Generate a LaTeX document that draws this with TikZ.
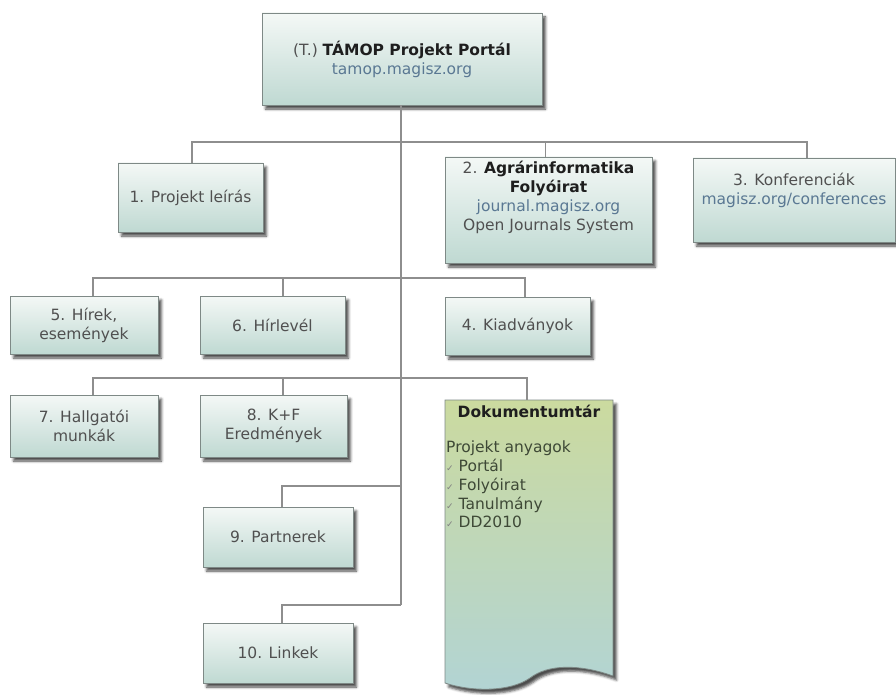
\documentclass[tikz,border=0pt]{standalone}
\usepackage{fontspec}
\setmainfont{DejaVu Sans}
\usetikzlibrary{shadows.blur}

\definecolor{boxtop}{HTML}{F4F8F6}
\definecolor{boxbot}{HTML}{BFD9D2}
\definecolor{boxline}{HTML}{7E8986}
\definecolor{wirecol}{HTML}{8E8E8E}
\definecolor{bodytxt}{HTML}{505050}
\definecolor{urlcol}{HTML}{5A7893}
\definecolor{strongtxt}{HTML}{1E1E1E}
\definecolor{doctop}{HTML}{CBDA9F}
\definecolor{docbot}{HTML}{B2D4D4}
\definecolor{doctxt}{HTML}{3E4936}

% small grey tick in front of the list entries
\newcommand\ticked{{\color{gray}\fontsize{9}{9}\selectfont ✓}\hspace{5pt}}

\begin{document}
\begin{tikzpicture}[x=1pt,y=-1pt,
  basefont/.style={font=\fontsize{15.5}{19}\selectfont},
  softshadow/.style={blur shadow={shadow xshift=3.5pt, shadow yshift=-4pt,
      shadow blur radius=2.5pt, shadow opacity=70}},
  box/.style={basefont, draw=boxline, line width=0.8pt,
    top color=boxtop, bottom color=boxbot, softshadow,
    text=bodytxt, align=center, inner sep=0pt},
  label/.style={basefont, text=bodytxt, align=center, inner sep=0pt},
  wire/.style={draw=wirecol, line width=1.6pt}]
\useasboundingbox (0,0) rectangle (896,695);

% ---- bus levels and trunk end
\coordinate (r1) at (0,142);
\coordinate (r2) at (0,278);
\coordinate (r3) at (0,378);
\coordinate (r4) at (0,486);
\coordinate (r5) at (0,605);
\coordinate (trunkend) at (401,605);
\coordinate (doctap) at (527,400);

% ---- boxes
\node[box, minimum width=280pt, minimum height=92pt] (top) at (402,59) {};
\node[box, minimum width=145pt, minimum height=69pt] (b1) at (190.5,197.5) {1. Projekt leírás};
\node[box, minimum width=207pt, minimum height=106pt] (b2) at (548.5,210) {};
\node[box, minimum width=202pt, minimum height=84pt] (b3) at (794,200) {};
\node[box, minimum width=148pt, minimum height=58pt] (b5) at (84,325) {5. Hírek,\\események};
\node[box, minimum width=145pt, minimum height=58pt] (b6) at (272.5,325) {6. Hírlevél};
\node[box, minimum width=145pt, minimum height=58pt] (b4) at (517.5,326) {4. Kiadványok};
\node[box, minimum width=148pt, minimum height=62pt] (b7) at (84,426) {7. Hallgatói\\munkák};
\node[box, minimum width=147pt, minimum height=62pt] (b8) at (273.5,426) {8. K+F\\Eredmények};
\node[box, minimum width=150pt, minimum height=60pt] (b9) at (278,537) {9. Partnerek};
\node[box, minimum width=150pt, minimum height=60pt] (b10) at (278,653) {10. Linkek};

% ---- document store shape
\path[draw=boxline, line width=0.8pt, top color=doctop, bottom color=docbot, softshadow]
  (445,400) -- (613,400) -- (613,676)
  .. controls (580,664) and (548,664) .. (530,678)
  .. controls (510,692) and (472,692) .. (445,683) -- cycle;

% ---- box texts placed above centre
\node[label] (toptext) at (402,59)
  {(T.) {\bfseries\color{strongtxt}TÁMOP Projekt Portál}\\{\color{urlcol}tamop.magisz.org}};
\node[label] (b2text) at (548.5,197)
  {2. {\bfseries\color{strongtxt}Agrárinformatika}\\{\bfseries\color{strongtxt}Folyóirat}\\{\color{urlcol}journal.magisz.org}\\Open Journals System};
\node[label] (b3text) at (794,190)
  {3. Konferenciák\\{\color{urlcol}magisz.org/conferences}};
\node[label, text=strongtxt, font=\fontsize{15.5}{19}\selectfont\bfseries] (doctitle) at (529,411) {Dokumentumtár};
\node[text=doctxt, align=left, inner sep=0pt, anchor=north west,
  font=\fontsize{15.5}{18.7}\selectfont] (doclist) at (446,441)
  {Projekt anyagok\\\ticked Portál\\\ticked Folyóirat\\\ticked Tanulmány\\\ticked DD2010};

% ---- connector taps on the boxes
\coordinate (t1) at ([xshift=1.5pt]b1.north);
\coordinate (t2) at ([xshift=-3pt]b2.north);
\coordinate (t3) at ([xshift=13pt]b3.north);
\coordinate (t5) at ([xshift=9pt]b5.north);
\coordinate (t6) at ([xshift=10.5pt]b6.north);
\coordinate (t4) at ([xshift=7.5pt]b4.north);
\coordinate (t7) at ([xshift=9pt]b7.north);
\coordinate (t8) at ([xshift=9.5pt]b8.north);
\coordinate (t9) at ([xshift=4pt]b9.north);
\coordinate (t10) at ([xshift=4pt]b10.north);

% ---- connectors
\draw[wire] (top.south -| trunkend) -- (trunkend);
\draw[wire] (t1) -- (t1 |- r1) -- (t3 |- r1) -- (t3);
\draw[wire] (t2) -- (t2 |- r1);
\draw[wire] (t5) -- (t5 |- r2) -- (t4 |- r2) -- (t4);
\draw[wire] (t6) -- (t6 |- r2);
\draw[wire] (t7) -- (t7 |- r3) -- (doctap |- r3) -- (doctap);
\draw[wire] (t8) -- (t8 |- r3);
\draw[wire] (t9) -- (t9 |- r4) -- (trunkend |- r4);
\draw[wire] (t10) -- (t10 |- r5) -- (trunkend);
\end{tikzpicture}
\end{document}
